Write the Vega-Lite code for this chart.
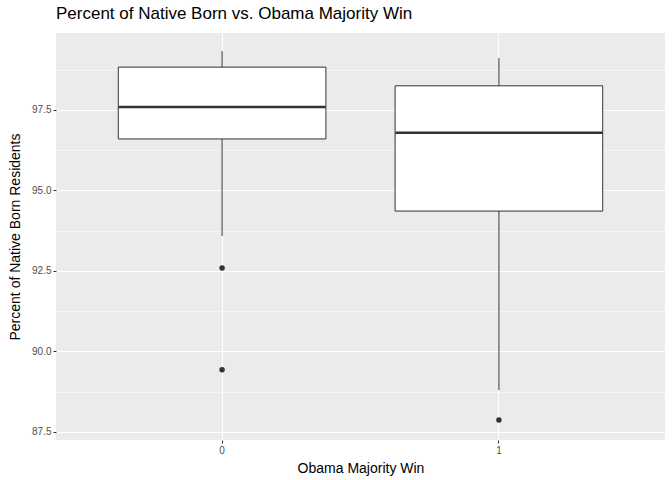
{
  "$schema": "https://vega.github.io/schema/vega-lite/v6.json",
  "width": 609,
  "height": 407,
  "autosize": {"type": "none"},
  "padding": {"left": 56, "top": 33, "right": 7, "bottom": 40},
  "title": {"text": "Percent of Native Born vs. Obama Majority Win", "anchor": "start", "frame": "group", "fontSize": 17, "fontWeight": "normal", "font": "Liberation Sans", "color": "#000000", "offset": 10},
  "config": {
    "view": {"fill": "#EBEBEB", "stroke": null},
    "font": "Liberation Sans",
    "axis": {"domain": false, "gridColor": "#FFFFFF", "tickColor": "#333333", "tickSize": 3, "labelColor": "#4D4D4D", "labelFontSize": 10, "titleFontSize": 14, "titleFontWeight": "normal", "titleColor": "#000000"}
  },
  "datasets": {
    "boxes": [
      {"win": "0", "lo": 93.59, "q1": 96.6, "med": 97.59, "q3": 98.83, "hi": 99.33},
      {"win": "1", "lo": 88.8, "q1": 94.36, "med": 96.79, "q3": 98.25, "hi": 99.11}
    ],
    "outliers": [
      {"win": "0", "pct": 92.59},
      {"win": "0", "pct": 89.43},
      {"win": "1", "pct": 87.87}
    ]
  },
  "encoding": {
    "x": {"field": "win", "type": "nominal", "title": "Obama Majority Win",
      "scale": {"domain": ["0", "1"], "paddingInner": 0.25, "paddingOuter": 0.225},
      "axis": {"labelAngle": 0, "gridWidth": 1.1, "grid": true, "bandPosition": 0.5, "titlePadding": 6}}
  },
  "layer": [
    {
      "data": {"name": "boxes"},
      "mark": {"type": "rule", "color": "#333333"},
      "encoding": {
        "y": {"field": "lo", "type": "quantitative", "title": "Percent of Native Born Residents",
          "scale": {"domain": [87.25, 99.89], "nice": false, "zero": false},
          "axis": {
            "values": [87.5, 88.75, 90, 91.25, 92.5, 93.75, 95, 96.25, 97.5, 98.75],
            "labelExpr": "datum.value % 2.5 == 0 ? format(datum.value, '.1f') : ''",
            "gridWidth": {"condition": {"test": "datum.value % 2.5 == 0", "value": 1.1}, "value": 0.5},
            "tickSize": {"condition": {"test": "datum.value % 2.5 == 0", "value": 3}, "value": 0},
            "titlePadding": 9
          }},
        "y2": {"field": "hi"}
      }
    },
    {
      "data": {"name": "boxes"},
      "mark": {"type": "bar", "fill": "#FFFFFF", "stroke": "#333333", "strokeWidth": 1},
      "encoding": {
        "y": {"field": "q1", "type": "quantitative"},
        "y2": {"field": "q3"}
      }
    },
    {
      "data": {"name": "boxes"},
      "mark": {"type": "tick", "color": "#333333", "thickness": 2.5, "size": 207, "opacity": 1},
      "encoding": {
        "y": {"field": "med", "type": "quantitative"}
      }
    },
    {
      "data": {"name": "outliers"},
      "mark": {"type": "circle", "color": "#333333", "size": 30, "opacity": 1},
      "encoding": {
        "y": {"field": "pct", "type": "quantitative"}
      }
    }
  ]
}
